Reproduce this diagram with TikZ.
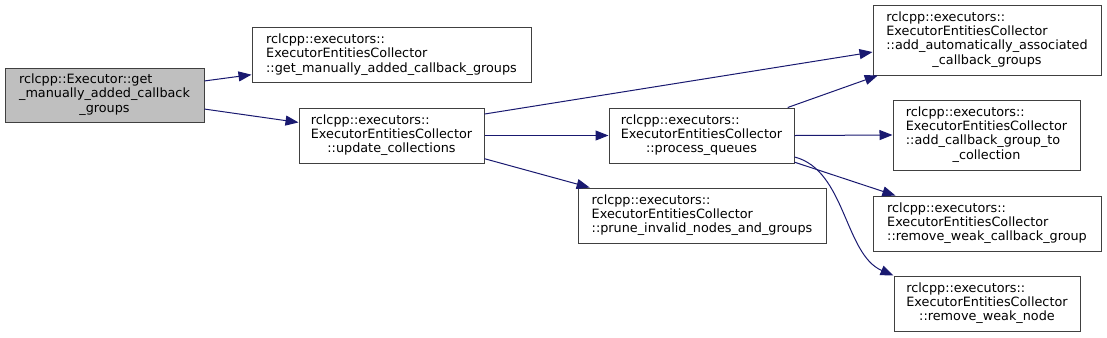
\documentclass[tikz,border=0pt]{standalone}
\usepackage{fontspec}
\setmainfont{DejaVu Sans}
\usetikzlibrary{arrows.meta}
\definecolor{callblue}{HTML}{191970}
\definecolor{boxgray}{HTML}{404040}
\definecolor{rootgray}{HTML}{BFBFBF}
\newcommand{\fnlines}[1]{\begin{tabular}{@{}l@{}}#1\end{tabular}}
\newcommand{\lastln}[1]{\multicolumn{1}{@{}c@{}}{#1}}

\begin{document}
\begin{tikzpicture}[
    x=0.75pt, y=-0.75pt,
    fn/.style={rectangle, draw=boxgray, fill=white, line width=0.75pt,
               inner sep=0pt, minimum height=41.25pt,
               font=\fontsize{9.6}{10.7}\selectfont},
    tall/.style={minimum height=52.5pt},
    call/.style={-{Triangle[length=9.75pt, width=7.5pt]}, line width=0.75pt, color=callblue}
  ]
    \useasboundingbox (0,0) rectangle (1107,337);

    \node[fn, fill=rootgray, minimum width=149.25pt, minimum height=40.5pt] (root) at (104.5,95)
      {\fnlines{rclcpp::Executor::get\\\_manually\_added\_callback\\\lastln{\_groups}}};

    \node[fn, minimum width=209.25pt] (getman) at (391.5,55)
      {\fnlines{rclcpp::executors::\\ExecutorEntitiesCollector\\\lastln{::get\_manually\_added\_callback\_groups}}};
    \node[fn, minimum width=138.75pt] (update) at (391.5,135.5)
      {\fnlines{rclcpp::executors::\\ExecutorEntitiesCollector\\\lastln{::update\_collections}}};

    \node[fn, minimum width=138.75pt] (process) at (701.5,135.5)
      {\fnlines{rclcpp::executors::\\ExecutorEntitiesCollector\\\lastln{::process\_queues}}};
    \node[fn, minimum width=186pt] (prune) at (702,215.5)
      {\fnlines{rclcpp::executors::\\ExecutorEntitiesCollector\\\lastln{::prune\_invalid\_nodes\_and\_groups}}};

    \node[fn, tall, minimum width=171pt] (addauto) at (987,40)
      {\fnlines{rclcpp::executors::\\ExecutorEntitiesCollector\\::add\_automatically\_associated\\\lastln{\_callback\_groups}}};
    \node[fn, tall, minimum width=140.25pt] (addcb) at (986.5,135)
      {\fnlines{rclcpp::executors::\\ExecutorEntitiesCollector\\::add\_callback\_group\_to\\\lastln{\_collection}}};
    \node[fn, minimum width=171pt] (rmgroup) at (987,223.5)
      {\fnlines{rclcpp::executors::\\ExecutorEntitiesCollector\\\lastln{::remove\_weak\_callback\_group}}};
    \node[fn, minimum width=139.5pt] (rmnode) at (987,303.5)
      {\fnlines{rclcpp::executors::\\ExecutorEntitiesCollector\\\lastln{::remove\_weak\_node}}};

    \draw[call] (root.8) -- (getman.188);
    \draw[call] (root.-8) -- (update.172);
    \draw[call] (update.13) -- (addauto.186);
    \draw[call] (update.east) -- (process.west);
    \draw[call] (update.-14) -- (prune.166);
    \draw[call] (process.18) -- (addauto.198);
    \draw[call] (process.east) -- (addcb.west);
    \draw[call] (process.-16) -- (rmgroup.163);
    \draw[call] (process.-13) .. controls +(51,13) and +(-49,-21) .. (rmnode.north west);
  \end{tikzpicture}
\end{document}
